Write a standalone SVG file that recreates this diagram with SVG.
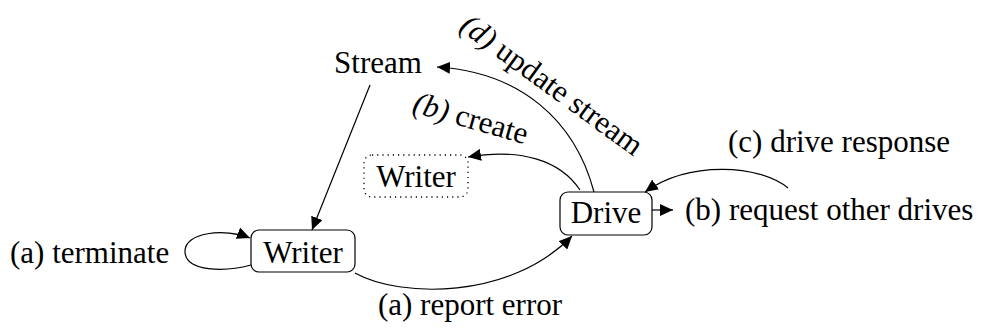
<svg xmlns="http://www.w3.org/2000/svg" width="982" height="329" viewBox="0 0 982 329">
<style>
text{font-family:'Liberation Serif','Times New Roman','DejaVu Serif',serif;font-size:31px;fill:#000}
.node{fill:#fff;stroke:#000;stroke-width:1.2}
.dot{fill:#fff;stroke:#000;stroke-width:1.3;stroke-dasharray:1.2 4}
.edge{fill:none;stroke:#000;stroke-width:1.2;marker-end:url(#ah)}
.mid{text-anchor:middle}
</style>
<defs>
<marker id="ah" markerUnits="userSpaceOnUse" markerWidth="14" markerHeight="12" refX="13" refY="6" orient="auto">
<path d="M0,0 L13,6 L0,12 z" fill="#000"/>
</marker>
</defs>
<g id="connectors">
<path class="edge" d="M251,265 C225,272 186,272 185,252 C184,232 225,228 250,238"/>
<path class="edge" d="M370,85 L312,230"/>
<path class="edge" d="M355,273 C400,298 510,300 572,236"/>
<path class="edge" d="M788,188 C760,165 690,160 645,192"/>
<path class="edge" d="M652,210 L673,210"/>
<path class="edge" d="M580,190 C560,160 520,148 468,157"/>
<path class="edge" d="M594,192 C575,120 520,72 437,67"/>
</g>
<g id="stream">
<text class="mid" x="378" y="73" font-family="Liberation Serif, serif">Stream</text>
</g>
<g id="writer-new">
<rect class="dot" x="364" y="155" width="104" height="42" rx="8"/>
<text class="mid" x="416" y="187" font-family="Liberation Serif, serif">Writer</text>
</g>
<g id="writer">
<rect class="node" x="251" y="230" width="104" height="42" rx="8"/>
<text class="mid" x="303" y="263" font-family="Liberation Serif, serif">Writer</text>
</g>
<g id="drive">
<rect class="node" x="560" y="192" width="92" height="43" rx="8"/>
<text class="mid" x="606" y="223" font-family="Liberation Serif, serif">Drive</text>
</g>
<g id="labels">
<text x="10" y="263" font-family="Liberation Serif, serif">(a) terminate</text>
<text class="mid" x="470" y="315" font-family="Liberation Serif, serif">(a) report error</text>
<text x="728" y="152" font-family="Liberation Serif, serif">(c) drive response</text>
<text x="685" y="220" font-family="Liberation Serif, serif">(b) request other drives</text>
<text class="mid" transform="translate(468,128) rotate(16)" font-family="Liberation Serif, serif"><tspan font-style="italic">(b)</tspan> create</text>
<text class="mid" transform="translate(546,93) rotate(36)" font-family="Liberation Serif, serif"><tspan font-style="italic">(d)</tspan> update stream</text>
</g>
</svg>
